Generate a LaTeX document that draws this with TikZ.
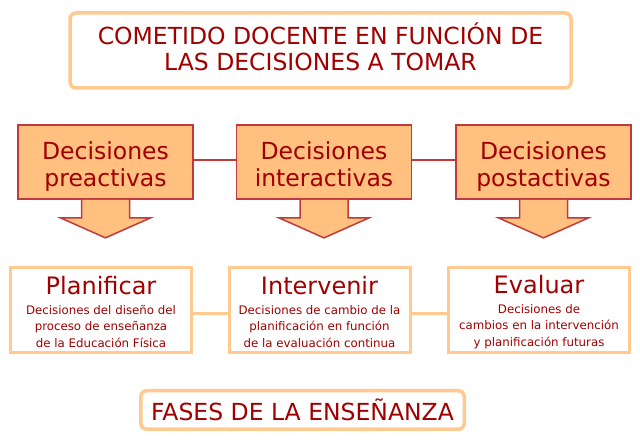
\documentclass[tikz,border=0pt]{standalone}
\usepackage{fontspec}
\setmainfont{DejaVu Sans}
\usetikzlibrary{calc}
\definecolor{titlered}{HTML}{A00000}
\definecolor{paleorange}{HTML}{FFC98F}
\definecolor{boxorange}{HTML}{FFC080}
\definecolor{brickred}{HTML}{C0393B}
\newcommand{\topgap}[1]{\rule{0pt}{#1}}

\begin{document}
\begin{tikzpicture}[x=1pt,y=1pt,
  titlebox/.style={draw=paleorange,line width=3.5pt,rounded corners=6pt,fill=white,inner sep=0pt,align=center,text=titlered,font=\fontsize{23.5}{26}\selectfont},
  decbox/.style={draw=brickred,line width=1.8pt,fill=boxorange,minimum width=175pt,minimum height=74pt,inner sep=0pt,align=center,text=titlered,font=\fontsize{23.5}{27}\selectfont},
  phasebox/.style={draw=paleorange,line width=3pt,minimum width=181pt,minimum height=85pt,inner sep=0pt,align=center,text=titlered,font=\fontsize{11.8}{16.5}\selectfont},
  blockarrow/.style={draw=brickred,line width=1.5pt,fill=boxorange,line join=miter},
  declink/.style={draw=brickred,line width=1.8pt},
  phaselink/.style={draw=paleorange,line width=3pt}]
\useasboundingbox (0,0) rectangle (640,441);
%\fill[white] (0,0) rectangle (640,441);
\node[titlebox,minimum width=501pt,minimum height=75pt] (cometido) at (320.5,390.5) {COMETIDO DOCENTE EN FUNCIÓN DE\\LAS DECISIONES A TOMAR\rule[-7pt]{0pt}{0pt}};

\node[decbox] (dpre) at (105.5,279) {\topgap{26pt}Decisiones\\preactivas};
\node[decbox] (dinter) at (324,279) {\topgap{26pt}Decisiones\\interactivas\vphantom{p}};
\node[decbox] (dpost) at (543.5,279) {\topgap{26pt}Decisiones\\postactivas};
\draw[declink] ([yshift=2pt]dpre.east) -- ([yshift=2pt]dinter.west);
\draw[declink] ([yshift=2pt]dinter.east) -- ([yshift=2pt]dpost.west);

\foreach \d in {dpre,dinter,dpost}
  \draw[blockarrow] ($(\d.south)+(-24,0)$) -- ++(0,-18) -- ++(-21,0) -- ++(45,-20) -- ++(45,20) -- ++(-21,0) -- ++(0,18);

\node[phasebox] (pplan) at (101,131) {\topgap{22pt}{\fontsize{24}{24}\selectfont Planificar}\\[3pt]Decisiones del diseño del\\proceso de enseñanza\\de la Educación Física};
\node[phasebox] (pinter) at (319.5,131) {\topgap{22pt}{\fontsize{24}{24}\selectfont Intervenir}\\[3pt]Decisiones de cambio de la\\planificación en función\\de la evaluación continua};
\node[phasebox] (peval) at (539,131) {\topgap{22pt}{\fontsize{24}{24}\selectfont Evaluar}\\[3pt]Decisiones de\\cambios en la intervención\\y planificación futuras};
\draw[phaselink] ([yshift=-4pt]pplan.east) -- ([yshift=-4pt]pinter.west);
\draw[phaselink] ([yshift=-4pt]pinter.east) -- ([yshift=-4pt]peval.west);

\node[titlebox,minimum width=323.5pt,minimum height=38.5pt] (fases) at (302.5,31) {FASES DE LA ENSEÑANZA};
\end{tikzpicture}
\end{document}
